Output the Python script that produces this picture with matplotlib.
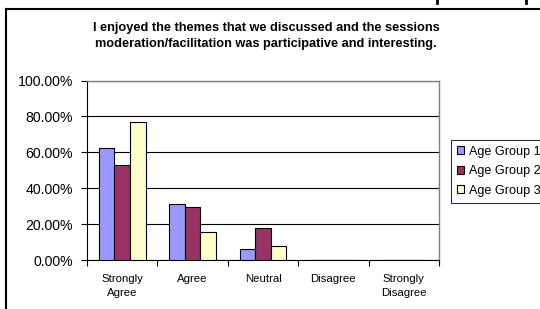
import matplotlib
matplotlib.use("Agg")
import matplotlib.pyplot as plt
import numpy as np
from matplotlib.ticker import FuncFormatter

categories = ["Strongly\nAgree", "Agree", "Neutral", "Disagree", "Strongly\nDisagree"]
series_names = ["Age Group 1", "Age Group 2", "Age Group 3"]
group1 = [62.50, 31.25, 6.25, 0, 0]
group2 = [52.94, 29.41, 17.65, 0, 0]
group3 = [76.92, 15.38, 7.69, 0, 0]
colors = ["#9999FF", "#993366", "#FFFFCC"]
title = "I enjoyed the themes that we discussed and the sessions\nmoderation/facilitation was participative and interesting."
yticks = [0, 20, 40, 60, 80, 100]

plt.rcParams['font.family'] = ['Liberation Sans', 'DejaVu Sans']

W, H = 540, 309
fig = plt.figure(figsize=(W/100, H/100), dpi=100)
fig.patch.set_facecolor("white")

# outer chart border (left and top visible)
fig.add_artist(plt.Line2D([6/W, 6/W], [0, 1 - 9/H], color="black", lw=1.5, transform=fig.transFigure))
fig.add_artist(plt.Line2D([6/W, 1], [1 - 9/H, 1 - 9/H], color="black", lw=1.5, transform=fig.transFigure))
# clipped fragments of text above the chart
for xf in (437, 526):
    fig.add_artist(plt.Line2D([xf/W, xf/W], [1, 1 - 3/H], color="black", lw=2, transform=fig.transFigure))

left, right, top, bottom = 87, 439, 80.5, 260
ax = fig.add_axes([left/W, 1 - bottom/H, (right-left)/W, (bottom-top)/H])

x = np.arange(len(categories))
bw = 0.667/3
for i, (vals, c, name) in enumerate(zip([group1, group2, group3], colors, series_names)):
    ax.bar(x + (i-1)*bw, vals, width=bw, color=c, edgecolor="black", linewidth=0.8, label=name, zorder=3)

ax.set_xlim(-0.5, len(categories)-0.5)
ax.set_ylim(0, 100)
ax.set_yticks(yticks)
ax.yaxis.set_major_formatter(FuncFormatter(lambda v, p: f"{v:.2f}%"))
ax.grid(axis="y", color="black", lw=0.8, zorder=0)
ax.set_axisbelow(True)

ax.set_xticks(np.arange(len(categories)+1) - 0.5, minor=False)
ax.set_xticklabels([])
ax.set_xticks(x, minor=True)
ax.set_xticklabels(categories, minor=True, fontsize=8.2, linespacing=1.5)
ax.tick_params(axis="x", which="minor", length=0, pad=10)
ax.tick_params(axis="x", which="major", length=4, direction="out", width=0.8)
ax.tick_params(axis="y", length=4, direction="out", width=0.8, labelsize=10.2, pad=6)

for s in ["top", "right"]:
    ax.spines[s].set_color("#808080")
    ax.spines[s].set_linewidth(1)
ax.spines["left"].set_color("black")
ax.spines["bottom"].set_color("black")

fig.text(266/W, 1 - 36/H, title, ha="center", va="center", fontsize=9.2, fontweight="bold", linespacing=1.35)

leg = fig.legend(loc="upper left", bbox_to_anchor=(451/W, 1 - 140/H), fontsize=9.1,
                 frameon=True, fancybox=False, edgecolor="black", handlelength=0.6, handleheight=0.6,
                 handletextpad=0.35, borderpad=0.45, labelspacing=0.6, borderaxespad=0)
leg.get_frame().set_linewidth(0.8)

fig.savefig("out.png", dpi=100)
